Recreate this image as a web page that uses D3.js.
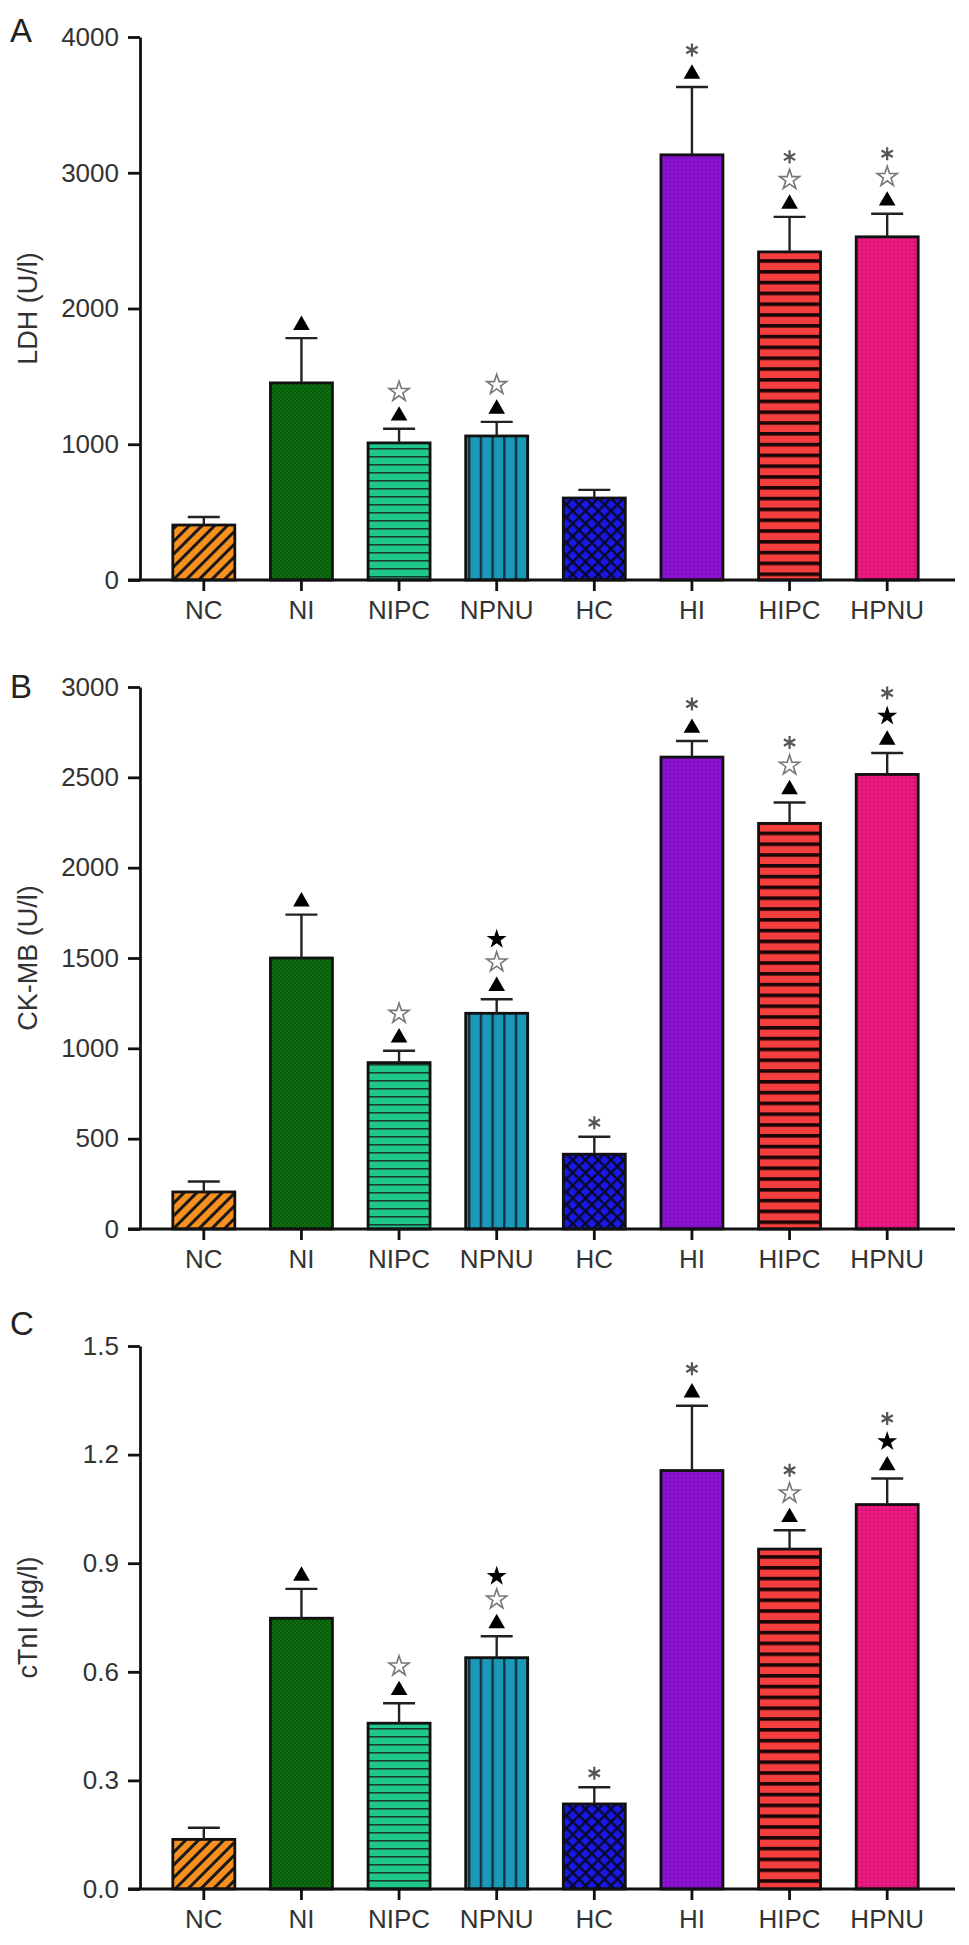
<!DOCTYPE html>
<html>
<head>
<meta charset="utf-8">
<script src="https://cdn.jsdelivr.net/npm/d3@7"></script>
<style>
  html, body { margin: 0; padding: 0; background: #fff; }
  svg { display: block; font-family: "Liberation Sans", Arial, sans-serif; }
</style>
</head>
<body>
<svg id="chart" width="969" height="1945"></svg>
<script>
// groups on the x axis
const groups = ["NC", "NI", "NIPC", "NPNU", "HC", "HI", "HIPC", "HPNU"];

// LDH (U/l)
const ldhMean = [405, 1452, 1010, 1061, 604, 3132, 2417, 2528];
const ldhSD = [59, 330, 104, 104, 60, 500, 258, 170];
const ldhTicks = [0, 1000, 2000, 3000, 4000];
const ldhMarks = [[], ["tri"], ["tri", "open"], ["tri", "open"], [], ["tri", "ast"], ["tri", "open", "ast"], ["tri", "open", "ast"]];

// CK-MB (U/l)
const ckmbMean = [205, 1500, 921, 1194, 414, 2612, 2245, 2516];
const ckmbSD = [58, 240, 66, 78, 97, 89, 116, 119];
const ckmbTicks = [0, 500, 1000, 1500, 2000, 2500, 3000];
const ckmbMarks = [[], ["tri"], ["tri", "open"], ["tri", "open", "full"], ["ast"], ["tri", "ast"], ["tri", "open", "ast"], ["tri", "full", "ast"]];

// cTnI (µg/l)
const ctniMean = [0.137, 0.748, 0.458, 0.639, 0.235, 1.156, 0.939, 1.062];
const ctniSD = [0.032, 0.081, 0.055, 0.059, 0.046, 0.179, 0.052, 0.072];
const ctniTicks = [0, 0.3, 0.6, 0.9, 1.2, 1.5];
const ctniMarks = [[], ["tri"], ["tri", "open"], ["tri", "open", "full"], ["ast"], ["tri", "ast"], ["tri", "open", "ast"], ["tri", "full", "ast"]];

const panels = [
  { letter: "A", title: "LDH (U/l)", mean: ldhMean, sd: ldhSD, ticks: ldhTicks, marks: ldhMarks, fmt: d3.format("d"), top: 37, bottom: 580, letterY: 42 },
  { letter: "B", title: "CK-MB (U/l)", mean: ckmbMean, sd: ckmbSD, ticks: ckmbTicks, marks: ckmbMarks, fmt: d3.format("d"), top: 687, bottom: 1229, letterY: 698 },
  { letter: "C", title: "cTnI (\u03bcg/l)", mean: ctniMean, sd: ctniSD, ticks: ctniTicks, marks: ctniMarks, fmt: d3.format(".1f"), top: 1346, bottom: 1889, letterY: 1335 }
];

const svg = d3.select("#chart");
const axisX = 140;   // y axis position
const axisEnd = 955; // right end of x axis line

// fill patterns, one per group
const defs = svg.append("defs");

function pat(id, w, h, bg, transform) {
  let p = defs.append("pattern").attr("id", id)
    .attr("patternUnits", "userSpaceOnUse")
    .attr("width", w).attr("height", h);
  if (transform) p.attr("patternTransform", transform);
  p.append("rect").attr("width", w).attr("height", h).attr("fill", bg);
  return p;
}

// NC: orange with diagonal stripes
pat("pNC", 9, 9, "#f7901e", "rotate(45)")
  .append("rect").attr("x", 0).attr("y", 0).attr("width", 3).attr("height", 9).attr("fill", "#1a1a1a");
// NI: dark green fine texture
let pNI = pat("pNI", 4, 4, "#0d7010");
pNI.append("rect").attr("width", 2).attr("height", 2).attr("fill", "#095a0b");
pNI.append("rect").attr("x", 2).attr("y", 2).attr("width", 2).attr("height", 2).attr("fill", "#095a0b");
// NIPC: green with horizontal lines
pat("pNIPC", 8, 8, "#1fc88a")
  .append("rect").attr("y", 0).attr("width", 8).attr("height", 1.6).attr("fill", "#1b3d30");
// NPNU: teal with vertical lines
pat("pNPNU", 11.7, 8, "#1b99b8")
  .append("rect").attr("x", 0).attr("width", 2.4).attr("height", 8).attr("fill", "#14303f");
// HC: blue with diagonal crosshatch
let pHC = pat("pHC", 9, 9, "#1818e8", "rotate(45)");
pHC.append("rect").attr("width", 2.5).attr("height", 9).attr("fill", "#0a0a30");
pHC.append("rect").attr("width", 9).attr("height", 2.5).attr("fill", "#0a0a30");
// HI: purple fine dots
let pHI = pat("pHI", 4, 4, "#8c12d2");
pHI.append("circle").attr("cx", 2).attr("cy", 2).attr("r", 0.9).attr("fill", "#7408b2");
// HIPC: red with thick horizontal stripes
pat("pHIPC", 10.8, 10.8, "#f53e3e")
  .append("rect").attr("y", 0).attr("width", 10.8).attr("height", 3.6).attr("fill", "#1a0606");
// HPNU: pink fine dots
let pHPNU = pat("pHPNU", 4, 4, "#ea1a80");
pHPNU.append("circle").attr("cx", 2).attr("cy", 2).attr("r", 0.9).attr("fill", "#c80e68");

const fills = groups.map(g => `url(#p${g})`);

const x = d3.scaleBand()
  .domain(groups)
  .range([155, 936])
  .paddingInner(0.365)
  .paddingOuter(0.1825);

const markSym = {
  tri: d3.symbol().type(d3.symbolTriangle).size(120),
  open: d3.symbol().type(d3.symbolStar).size(125),
  full: d3.symbol().type(d3.symbolStar).size(125),
  ast: d3.symbol().type(d3.symbolAsterisk).size(120)
};
const markStyle = {
  tri: { fill: "#000", stroke: "none", sw: 0 },
  open: { fill: "#fff", stroke: "#777", sw: 1.6 },
  full: { fill: "#000", stroke: "none", sw: 0 },
  ast: { fill: "none", stroke: "#555", sw: 2.2 }
};

panels.forEach(p => {
  const y = d3.scaleLinear()
    .domain([0, d3.max(p.ticks)])
    .range([p.bottom, p.top]);

  const g = svg.append("g");

  // panel letter
  g.append("text")
    .attr("x", 10).attr("y", p.letterY)
    .attr("font-size", 33).attr("fill", "#222")
    .text(p.letter);

  // y axis title
  g.append("text")
    .attr("transform", `translate(37,${(p.top + p.bottom) / 2}) rotate(-90)`)
    .attr("text-anchor", "middle")
    .attr("font-size", 27).attr("fill", "#333")
    .text(p.title);

  // bars
  const data = groups.map((name, i) => ({ name, mean: p.mean[i], sd: p.sd[i], marks: p.marks[i], fill: fills[i] }));

  g.selectAll("rect.bar")
    .data(data)
    .join("rect")
    .attr("class", "bar")
    .attr("x", d => x(d.name))
    .attr("width", x.bandwidth())
    .attr("y", d => y(d.mean))
    .attr("height", d => y(0) - y(d.mean))
    .attr("fill", d => d.fill)
    .attr("stroke", "#111")
    .attr("stroke-width", 2.8);

  // error bars (upper only)
  const eb = g.selectAll("g.err").data(data).join("g").attr("class", "err")
    .attr("stroke", "#222").attr("stroke-width", 2.4);
  eb.append("line")
    .attr("x1", d => x(d.name) + x.bandwidth() / 2)
    .attr("x2", d => x(d.name) + x.bandwidth() / 2)
    .attr("y1", d => y(d.mean))
    .attr("y2", d => y(d.mean + d.sd));
  eb.append("line")
    .attr("x1", d => x(d.name) + x.bandwidth() / 2 - 16)
    .attr("x2", d => x(d.name) + x.bandwidth() / 2 + 16)
    .attr("y1", d => y(d.mean + d.sd))
    .attr("y2", d => y(d.mean + d.sd));

  // significance markers stacked above error bars
  data.forEach(d => {
    const cx = x(d.name) + x.bandwidth() / 2;
    const base = y(d.mean + d.sd);
    d.marks.forEach((m, k) => {
      const cy = base - 13 - k * 23 - (m === "tri" ? 0 : 1);
      const st = markStyle[m];
      g.append("path")
        .attr("d", markSym[m]())
        .attr("transform", `translate(${cx},${cy})`)
        .attr("fill", st.fill)
        .attr("stroke", st.stroke)
        .attr("stroke-width", st.sw);
    });
  });

  // y axis
  const yAxis = g.append("g")
    .attr("transform", `translate(${axisX},0)`)
    .call(d3.axisLeft(y).tickValues(p.ticks).tickFormat(p.fmt).tickSize(12).tickPadding(9).tickSizeOuter(0));
  yAxis.select(".domain").attr("stroke", "#111").attr("stroke-width", 2.8);
  yAxis.selectAll(".tick line").attr("stroke", "#111").attr("stroke-width", 2.8);
  yAxis.selectAll(".tick text").attr("font-size", 26).attr("fill", "#333")
    .attr("font-family", "Liberation Sans, Arial, sans-serif");

  // x axis
  const xAxis = g.append("g")
    .attr("transform", `translate(0,${p.bottom})`)
    .call(d3.axisBottom(x).tickSize(11).tickPadding(10).tickSizeOuter(0));
  xAxis.select(".domain")
    .attr("d", `M${axisX - 12},0H${axisEnd}`)
    .attr("stroke", "#111").attr("stroke-width", 2.8);
  xAxis.selectAll(".tick line").attr("stroke", "#111").attr("stroke-width", 2.8);
  xAxis.selectAll(".tick text").attr("font-size", 26).attr("fill", "#333")
    .attr("font-family", "Liberation Sans, Arial, sans-serif");
});
</script>
</body>
</html>
